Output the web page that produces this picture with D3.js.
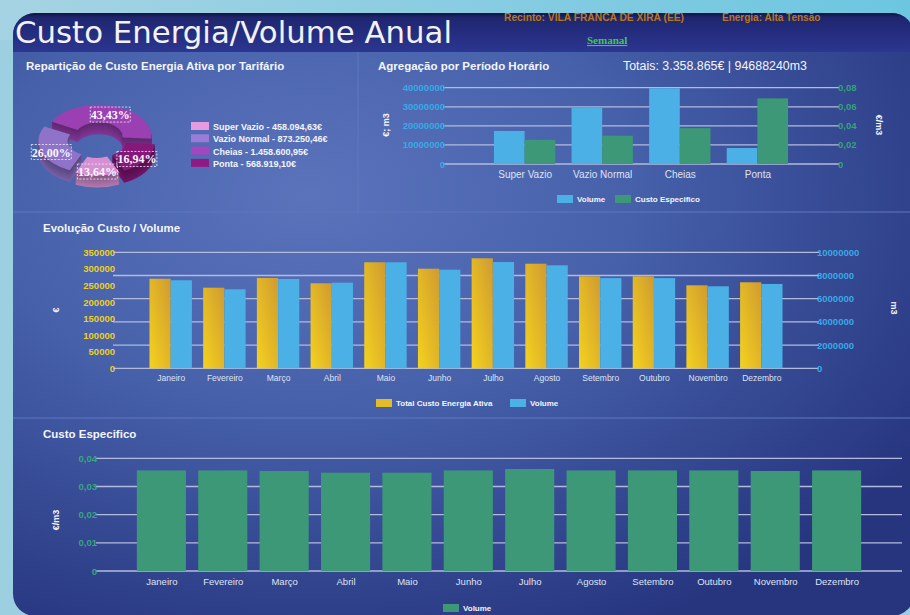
<!DOCTYPE html>
<html>
<head>
<meta charset="utf-8">
<script src="https://cdn.jsdelivr.net/npm/d3@7"></script>
<style>
  body { margin: 0; background: #9ccfe0; }
  svg { display: block; font-family: "Liberation Sans", Arial, sans-serif; }
</style>
</head>
<body>
<svg id="chart" width="910" height="615"></svg>
<script>
// ---- data ----
const tarifarios = ["Super Vazio", "Vazio Normal", "Cheias", "Ponta"];
const custoTarifario = [458094.63, 873250.46, 1458600.95, 568919.10];
const corTarifario = ["#d58fd2", "#8f73c9", "#9a40b2", "#86187a"];

const volumeTarifario = [17300000, 29500000, 39700000, 8400000];
const custoEspTarifario = [0.0253, 0.0297, 0.0376, 0.0688];

const meses = ["Janeiro", "Fevereiro", "Março", "Abril", "Maio", "Junho",
  "Julho", "Agosto", "Setembro", "Outubro", "Novembro", "Dezembro"];
const custoMensal = [270300, 243200, 272500, 256500, 319800, 300500,
  331900, 315600, 277600, 277600, 250400, 259500];
const volumeMensal = [7590000, 6810000, 7700000, 7380000, 9140000, 8500000,
  9160000, 8880000, 7780000, 7780000, 7070000, 7270000];
const custoEspMensal = [0.0357, 0.0357, 0.0355, 0.0349, 0.0349, 0.0357,
  0.0362, 0.0357, 0.0357, 0.0357, 0.0355, 0.0357];

const ticksVolTar = [0, 10000000, 20000000, 30000000, 40000000];
const ticksEspTar = [0, 0.02, 0.04, 0.06, 0.08];
const ticksCusto = [0, 50000, 100000, 150000, 200000, 250000, 300000, 350000];
const ticksVolMes = [0, 2000000, 4000000, 6000000, 8000000, 10000000];
const ticksEspMes = [0, 0.01, 0.02, 0.03, 0.04];

// colours
const cVolume = "#4bb0e6";
const cEsp = "#3d9877";
const cGrid = "#b3bbdd";
const cLabel = "#dfe3f2";

const pt = d3.formatLocale({decimal: ",", thousands: ".", grouping: [3], currency: ["", "€"]});
const fmtEur = pt.format(",.2f");
const fmtPct = pt.format(".2f");
const fmtDec = v => v === 0 ? "0" : pt.format(".2f")(v);

const svg = d3.select("#chart");
const defs = svg.append("defs");

// ---- background & panel ----
const topGrad = defs.append("linearGradient").attr("id", "topBg");
topGrad.append("stop").attr("offset", "0%").attr("stop-color", "#a6d3e3");
topGrad.append("stop").attr("offset", "100%").attr("stop-color", "#6cc6e0");
svg.append("rect").attr("width", 910).attr("height", 615).attr("fill", "#9ccfe0");
svg.append("rect").attr("width", 910).attr("height", 40).attr("fill", "url(#topBg)");

const bodyGrad = defs.append("radialGradient").attr("id", "bodyBg")
  .attr("cx", "33%").attr("cy", "30%").attr("r", "80%");
bodyGrad.append("stop").attr("offset", "0%").attr("stop-color", "#5a73bb");
bodyGrad.append("stop").attr("offset", "45%").attr("stop-color", "#4660aa");
bodyGrad.append("stop").attr("offset", "100%").attr("stop-color", "#27357f");

const headGrad = defs.append("linearGradient").attr("id", "headBg")
  .attr("x1", 0).attr("y1", 0).attr("x2", 0).attr("y2", 1);
headGrad.append("stop").attr("offset", "0%").attr("stop-color", "#0f1442");
headGrad.append("stop").attr("offset", "12%").attr("stop-color", "#1f2670");
headGrad.append("stop").attr("offset", "100%").attr("stop-color", "#2b3690");

svg.append("clipPath").attr("id", "panelClip")
  .append("rect").attr("x", 13).attr("y", 13).attr("width", 901).attr("height", 603).attr("rx", 22);

const panel = svg.append("g").attr("clip-path", "url(#panelClip)");
panel.append("rect").attr("x", 13).attr("y", 13).attr("width", 901).attr("height", 603).attr("fill", "url(#bodyBg)");
panel.append("rect").attr("x", 13).attr("y", 13).attr("width", 901).attr("height", 39).attr("fill", "url(#headBg)");

// dividers
const divider = "#5f78bf";
panel.append("line").attr("x1", 13).attr("x2", 910).attr("y1", 212).attr("y2", 212).attr("stroke", divider);
panel.append("line").attr("x1", 13).attr("x2", 910).attr("y1", 418).attr("y2", 418).attr("stroke", divider);
panel.append("line").attr("x1", 358).attr("x2", 358).attr("y1", 52).attr("y2", 212).attr("stroke", divider);

// ---- header texts ----
svg.append("text").attr("x", 15).attr("y", 43)
  .attr("font-family", "'DejaVu Sans', Verdana, sans-serif").attr("font-size", 30)
  .attr("textLength", 437).attr("lengthAdjust", "spacingAndGlyphs")
  .attr("fill", "#f2f2f6").text("Custo Energia/Volume Anual");
svg.append("text").attr("x", 504).attr("y", 21).attr("font-size", 10).attr("font-weight", "bold")
  .attr("fill", "#b9761c").attr("textLength", 180).attr("lengthAdjust", "spacingAndGlyphs")
  .text("Recinto: VILA FRANCA DE XIRA (EE)");
svg.append("text").attr("x", 722).attr("y", 21).attr("font-size", 10).attr("font-weight", "bold")
  .attr("fill", "#b9761c").text("Energia: Alta Tensão");
svg.append("text").attr("x", 587).attr("y", 44).attr("font-size", 11).attr("font-weight", "bold")
  .attr("font-family", "'Liberation Serif', serif").attr("text-decoration", "underline")
  .attr("fill", "#42c84a").text("Semanal");

const title = (x, y, t) => svg.append("text").attr("x", x).attr("y", y)
  .attr("font-size", 11.5).attr("font-weight", "bold").attr("fill", "#f4f5fb").text(t);
title(26, 70, "Repartição de Custo Energia Ativa por Tarifário");
title(378, 70, "Agregação por Período Horário");
svg.append("text").attr("x", 623).attr("y", 70).attr("font-size", 12).attr("fill", "#f4f5fb")
  .attr("textLength", 184).attr("lengthAdjust", "spacingAndGlyphs")
  .text("Totais: 3.358.865€  |  94688240m3");
title(43, 232, "Evolução Custo / Volume");
title(43, 438, "Custo Especifico");

// ---- helpers ----
function gridLines(scale, ticks, x0, x1) {
  svg.append("g").selectAll("line").data(ticks).join("line")
    .attr("x1", x0 - 4).attr("x2", x1 + 4)
    .attr("y1", d => scale(d)).attr("y2", d => scale(d))
    .attr("stroke", cGrid).attr("stroke-width", 1.3);
}
function yLabels(axis, x, scale, ticks, fmt, color, size) {
  const g = svg.append("g").attr("transform", `translate(${x},0)`)
    .call(axis(scale).tickValues(ticks).tickFormat(fmt).tickSize(0).tickPadding(0));
  g.select(".domain").remove();
  g.selectAll("text").attr("fill", color).attr("font-size", size).attr("font-weight", "bold")
    .attr("font-family", "'Liberation Sans', Arial, sans-serif");
}
function xLabels(scale, y, size) {
  const g = svg.append("g").attr("transform", `translate(0,${y})`)
    .call(d3.axisBottom(scale).tickSize(0).tickPadding(0));
  g.select(".domain").remove();
  g.selectAll("text").attr("fill", cLabel).attr("font-size", size)
    .attr("font-family", "'Liberation Sans', Arial, sans-serif");
}
function axisTitle(x, y, rot, t) {
  svg.append("text").attr("transform", `translate(${x},${y}) rotate(${rot})`)
    .attr("text-anchor", "middle").attr("font-size", 9).attr("font-weight", "bold")
    .attr("fill", "#f4f5fb").text(t);
}
function legend(items, y) {
  const g = svg.append("g");
  items.forEach(it => {
    g.append("rect").attr("x", it.x).attr("y", y - 4).attr("width", 16).attr("height", 8).attr("fill", it.fill);
    g.append("text").attr("x", it.x + 20).attr("y", y + 3).attr("font-size", 8).attr("font-weight", "bold")
      .attr("fill", "#f4f5fb").text(it.label);
  });
}

// ---- 3D donut ----
const pieCx = 97, pieCy = 140, rx = 53, squash = 0.6, depth = 12, explode = 6;
const pie = d3.pie().sort(null).value(d => d)
  .startAngle(155 * Math.PI / 180).endAngle(515 * Math.PI / 180);
const arcs = pie(custoTarifario).map((a, i) => {
  const mid = (a.startAngle + a.endAngle) / 2;
  return {...a, i, mid, ox: Math.sin(mid) * explode, oy: -Math.cos(mid) * explode};
});
const arcGen = d3.arc().innerRadius(rx * 0.45).outerRadius(rx);
const pieG = svg.append("g").attr("transform", `translate(${pieCx},${pieCy})`);
arcs.slice().sort((a, b) => (-Math.cos(a.mid)) - (-Math.cos(b.mid))).forEach(a => {
  const side = d3.color(corTarifario[a.i]).darker(1.4);
  for (let k = depth; k >= 1; k--) {
    pieG.append("path").attr("d", arcGen(a))
      .attr("transform", `translate(${a.ox},${a.oy * squash + k}) scale(1,${squash})`)
      .attr("fill", d3.interpolateRgb(side, d3.color(corTarifario[a.i]).darker(0.5))(k / depth));
  }
  pieG.append("path").attr("d", arcGen(a))
    .attr("transform", `translate(${a.ox},${a.oy * squash}) scale(1,${squash})`)
    .attr("fill", corTarifario[a.i]);
});
const total = d3.sum(custoTarifario);
const labelArc = d3.arc().innerRadius(rx * 0.8).outerRadius(rx * 0.8);
arcs.forEach(a => {
  const [lx, ly] = labelArc.centroid(a);
  const x = pieCx + lx + a.ox, y = pieCy + (ly + a.oy) * squash + 3;
  const g = svg.append("g").attr("transform", `translate(${x},${y})`);
  g.append("rect").attr("x", -20).attr("y", -8).attr("width", 40).attr("height", 15)
    .attr("fill", "none").attr("stroke", "#f0f0f8").attr("stroke-width", 0.8).attr("stroke-dasharray", "2,1.5");
  g.append("text").attr("text-anchor", "middle").attr("y", 4).attr("font-size", 12)
    .attr("font-family", "'Liberation Serif', serif").attr("font-weight", "bold")
    .attr("fill", "#fbf6ff").text(fmtPct(a.value / total * 100) + "%");
});
// pie legend
tarifarios.forEach((t, i) => {
  svg.append("rect").attr("x", 191).attr("y", 122 + i * 12.3).attr("width", 18).attr("height", 8)
    .attr("fill", d3.color(corTarifario[i]).brighter(0.2));
  svg.append("text").attr("x", 213).attr("y", 130 + i * 12.3).attr("font-size", 9).attr("font-weight", "bold")
    .attr("fill", "#f4f5fb").text(`${t} - ${fmtEur(custoTarifario[i])}€`);
});

// ---- Agregação por Período Horário ----
{
  const x0 = 447, x1 = 835;
  const x = d3.scalePoint().domain(tarifarios).range([x0, x1]).padding(1);
  const yL = d3.scaleLinear().domain([0, 40000000]).range([164, 87.7]);
  const yR = d3.scaleLinear().domain([0, 0.08]).range([164, 87.7]);
  gridLines(yL, ticksVolTar, x0, x1);
  yLabels(d3.axisLeft, x0 - 2, yL, ticksVolTar, d3.format("d"), "#39a9e6", 9.5);
  yLabels(d3.axisRight, x1 + 3, yR, ticksEspTar, fmtDec, "#33a277", 9.5);
  const bw = x.step() * 0.395;
  svg.append("g").selectAll("rect").data(volumeTarifario).join("rect")
    .attr("x", (d, i) => x(tarifarios[i]) - bw).attr("width", bw)
    .attr("y", d => yL(d)).attr("height", d => yL(0) - yL(d)).attr("fill", cVolume);
  svg.append("g").selectAll("rect").data(custoEspTarifario).join("rect")
    .attr("x", (d, i) => x(tarifarios[i])).attr("width", bw)
    .attr("y", d => yR(d)).attr("height", d => yR(0) - yR(d)).attr("fill", cEsp);
  xLabels(x, 171, 10);
  axisTitle(389, 125, -90, "€; m3");
  axisTitle(876, 125, 90, "€/m3");
  legend([{x: 557, fill: cVolume, label: "Volume"}, {x: 615, fill: cEsp, label: "Custo Especifico"}], 199);
}

// ---- Evolução Custo / Volume ----
{
  const x0 = 117, x1 = 815;
  const x = d3.scalePoint().domain(meses).range([x0, x1]).padding(1);
  const yL = d3.scaleLinear().domain([0, 350000]).range([368.3, 252.3]);
  const yR = d3.scaleLinear().domain([0, 10000000]).range([368.3, 252.3]);
  const gold = defs.append("linearGradient").attr("id", "gold")
    .attr("x1", 0).attr("y1", 1).attr("x2", 1).attr("y2", 0);
  gold.append("stop").attr("offset", "0%").attr("stop-color", "#f4d21e");
  gold.append("stop").attr("offset", "100%").attr("stop-color", "#d09b30");
  gridLines(yR, ticksVolMes, x0, x1);
  yLabels(d3.axisLeft, x0 - 2, yL, ticksCusto, d3.format("d"), "#ecd01e", 9.5);
  yLabels(d3.axisRight, x1 + 2, yR, ticksVolMes, d3.format("d"), "#39a9e6", 9.5);
  const bw = x.step() * 0.395;
  svg.append("g").selectAll("rect").data(custoMensal).join("rect")
    .attr("x", (d, i) => x(meses[i]) - bw).attr("width", bw)
    .attr("y", d => yL(d)).attr("height", d => yL(0) - yL(d)).attr("fill", "url(#gold)");
  svg.append("g").selectAll("rect").data(volumeMensal).join("rect")
    .attr("x", (d, i) => x(meses[i])).attr("width", bw)
    .attr("y", d => yR(d)).attr("height", d => yR(0) - yR(d)).attr("fill", cVolume);
  xLabels(x, 375, 8.5);
  axisTitle(59, 310, -90, "€");
  axisTitle(891, 308, 90, "m3");
  legend([{x: 376, fill: "#e4bb28", label: "Total Custo Energia Ativa"}, {x: 510, fill: cVolume, label: "Volume"}], 403);
}

// ---- Custo Especifico ----
{
  const x0 = 100, x1 = 898;
  const x = d3.scalePoint().domain(meses).range([x0, x1]).padding(1);
  const y = d3.scaleLinear().domain([0, 0.04]).range([571, 458.3]);
  gridLines(y, ticksEspMes, x0, x1);
  yLabels(d3.axisLeft, x0 - 3, y, ticksEspMes, fmtDec, "#36a87a", 9.5);
  const bw = x.step() * 0.8;
  svg.append("g").selectAll("rect").data(custoEspMensal).join("rect")
    .attr("x", (d, i) => x(meses[i]) - bw / 2).attr("width", bw)
    .attr("y", d => y(d)).attr("height", d => y(0) - y(d)).attr("fill", cEsp);
  xLabels(x, 578, 9.5);
  axisTitle(59, 520, -90, "€/m3");
  legend([{x: 443, fill: cEsp, label: "Volume"}], 608);
}
</script>
</body>
</html>
